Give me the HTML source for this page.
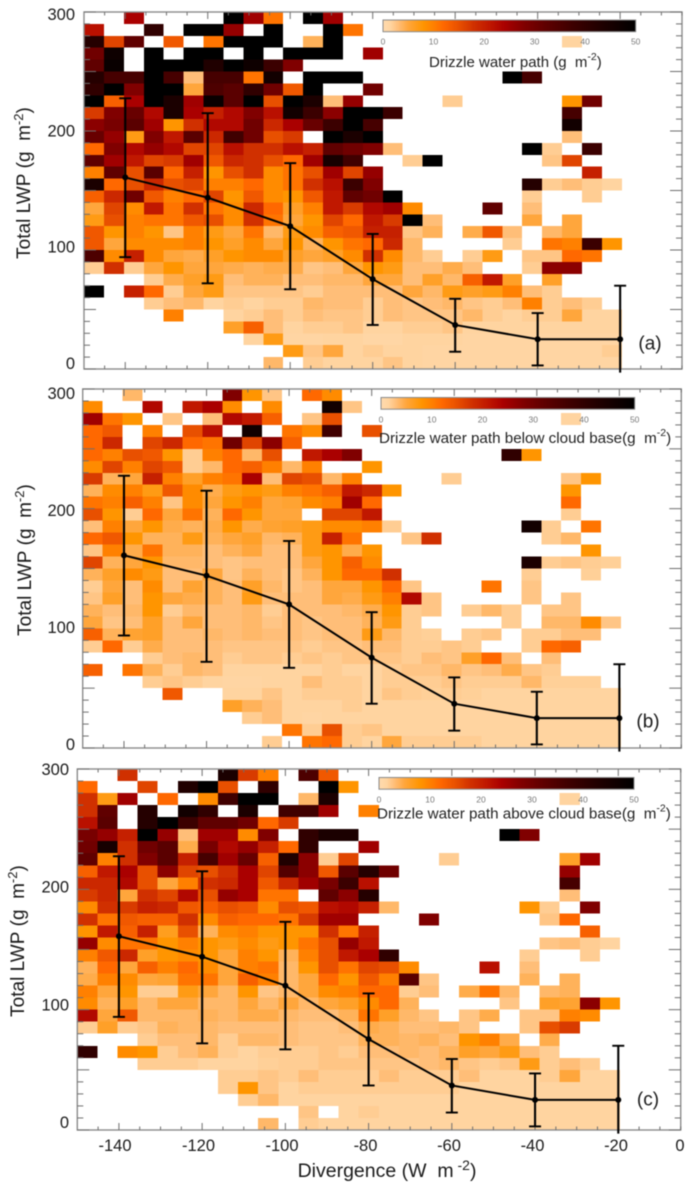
<!DOCTYPE html>
<html lang="en">
<head>
<meta charset="utf-8">
<title>Drizzle water path vs divergence</title>
<style>
html,body{margin:0;padding:0;background:#fff;width:694px;height:1192px;overflow:hidden}
svg{display:block;font-family:"Liberation Sans",sans-serif;filter:blur(0.45px)}
</style>
</head>
<body>
<svg id="chart" xmlns="http://www.w3.org/2000/svg" width="694" height="1192" viewBox="0 0 694 1192"></svg>
<script>
const panelARows = [
[null,null,24,null,null,null,null,50,25,11,null,50,25],
[22,null,null,40,null,50,50,26,null,50,null,null,50,11],
[42,16,32,null,14,null,11,50,50,50,null,4,50,null,null,null,null,null,null,null,null,null,null,null,1.5],
[30,47,null,50,null,50,50,null,50,null,50,50,50,null,25],
[32,48,null,50,50,50,43,50,47,38,28],
[42,36,36,50,36,3,36,36,11,46,null,50,50,50,null,null,null,null,null,null,null,50,36],
[40,50,28,50,50,5,35,33,40,30,14,50,null,null,30],
[50,13,24,50,44,25,48,33,50,15,50,44,3,26,null,null,null,null,2,null,null,null,null,null,8,30],
[17,28,31,23,44,24,20,23,28,22,46,38,27,50,50,38,null,null,null,null,null,null,null,null,36],
[27,29,33,25,8,18,23,23,30,19,24,31,38,50,36,null,null,null,null,null,null,null,null,null,46],
[31,26,7,28,21,33,19,37,30,15,17,null,50,44,50,null,null,null,null,null,null,null,null,null,3],
[12,28,23,26,23,16,16,22,18,18,22,20,32,30,28,3,null,null,null,null,null,null,50,2,null,38],
[32,25,21,16,17,25,14,19,18,15,12,25,45,37,null,null,2,50,null,null,null,null,null,2.5,16],
[10,32,15,33,12,20,8,15,18,9,11,15,25,16,26,null,null,null,null,null,null,null,null,null,null,20],
[44,12,15,19,15,16,10,10,12,9,11,18,22,38,28,null,null,null,null,null,null,null,42,2,3,2,1.5],
[13,19,30,14,10,12,16,8,14,9,8,14,21,32,30,50,null,null,null,null,null,null,2,null,null,2],
[5,16,9,21,11,18,11,9,19,12,6,10,21,17,23,25,9,null,null,null,32,null,3],
[7,15,10,11,11,14,15,9,18,11,5,8,16,12,21,17,50,3,null,null,null,null,5,null,5],
[14,8,10,8,2.5,10,7,5,11,3.5,7,9,13,14,20,20,2.5,4,null,4.5,14,3,null,3.5,5],
[14,5,9,9,9,10,8,6,9,5,8,4,8,11,12,19,3.5,null,null,null,null,2,null,11,10,38,8],
[35,9,20,9,5,4.5,6,8,9,9,6,5,6,9,18,9,3.5,2,null,2,7,null,2.5,2.5,12,11],
[2,18,2,5,8,5,5,4.5,4,4.5,4.5,2.5,3,5,8,7,3,3,4.5,3,null,null,2,27,27],
[null,null,null,2,4.5,6,7,3,4,4,3,3,3.5,3.5,5,5,3,6,3.5,13,21,6,null,6],
[50,null,20,12,2,5,7,2.5,2.5,2.5,2.5,2,3,3,3,3,5,3.5,7,6,7,10,3,2],
[null,null,null,2,3,3.5,1.5,2,1.5,2,2,3.5,3,3,2,3,2.5,3,3.5,2.5,2,3,10,2,3,2],
[null,null,null,null,10,null,null,1.5,2,3,2,3,2.5,2.5,2,3,2.5,2.5,2.5,3.5,2,1.5,2,2,5,1.5,1.5],
[null,null,null,null,null,null,null,6,13,3,1.5,2,2,2.5,1.5,1.5,2,2,2.5,1.5,1.5,1.5,1.5,1.5,1.5,1.5,1.5],
[null,null,null,null,null,null,null,null,1.5,7,1.2,1.2,1.5,1.5,1,1,1.5,1.5,1.5,1.2,1.2,1.2,1.2,1.2,1.2,1.2,1.2],
[null,null,null,null,null,null,null,null,null,null,7,2.5,5,1.5,2,1.5,1.5,1.2,1.2,1.2,1.2,1.2,1.2,1.2,1.2,1.2,2],
[null,null,null,null,null,null,null,null,null,3.5,null,2,1.5,1.5,1.5,2.5,1.5,1.2,1.2,1.2,1.2,1.2,1.2,1.2,1.2,1.2,1.2]
];
const panelBRows = [
[null,null,3.5,null,null,null,null,28,8,2.5,null,12,9],
[9,null,null,23,null,21,24,9,null,9,null,null,46,2.5],
[25,11,8,null,2.5,null,3,23,21,13,null,2.5,15,null,null,null,null,null,null,null,null,null,null,null,1.5],
[12,14,null,10,null,15,22,null,46,null,11,9,37,null,15],
[12,19,null,16,19,12,11,30,16,27,13],
[12,10,15,14,8,2,10,12,3.5,15,null,21,24,28,null,null,null,null,null,null,null,40,8],
[9,16,10,16,14,2,3.5,12,13,10,3.5,10,null,null,8],
[17,4,5,20,10,6,10,11,24,3,16,15,3.5,10,null,null,null,null,2,null,null,null,null,null,2.5,8],
[4,9,10,7,14,9,4.5,7,8,7,10,11,13,21,19,8,null,null,null,null,null,null,null,null,8],
[11,10,13,10,2.5,9,5,8,10,5,5.5,9,10,25,12,null,null,null,null,null,null,null,null,null,12],
[15,8,2,12,5,11,4,12,8,5,5,null,16,16,21,null,null,null,null,null,null,null,null,null,2],
[3,10,5,8,4.5,4,4.5,8,4.5,5.5,6,7,9,9,10,2,null,null,null,null,null,null,46,2,null,11],
[12,14,8,4,4,7,4,5,6,3.5,4,7,20,11,null,null,2.5,18,null,null,null,null,null,2,3.5],
[2.5,10,4.5,11,4,4,3,4,5,3,3,7,8,4.5,8,null,null,null,null,null,null,null,null,null,null,8],
[16,4,5,8,3.5,3.5,3,2.5,3,3,3,5,8,13,9,null,null,null,null,null,null,null,44,2,2.5,2,1.8],
[4,6,9,7,3,3,5,2.5,4,3,2.5,4,8,12,12,18,null,null,null,null,null,null,2,null,null,1.8],
[2,5,3,9,3,5.5,4,3,6,3.5,2.5,3,5,5,8,12,2.5,null,null,null,11,null,2.5],
[2.5,6,3,8,5,4.5,4,3,7,3,3,3,5,4.5,7,10,23,2.5,null,null,null,null,2.5,null,2.5],
[4,3,3.5,8,2,3.5,3,3,3.5,2,3,3,3,3.5,4.5,8,2,2.5,null,2,3.5,2,null,2.5,2.5],
[5,2.5,3,6,3,5,3,3,3.5,2.5,3,2.5,3,3,4,7,2,null,null,null,null,2,null,3.5,3.5,9,2.5],
[13,4,5.5,6,3,3,3.5,3,3.5,3,3,2.5,3,3,7,3.5,2,1.8,null,2,2.5,null,2,2,3,3],
[2,12,2,4.5,3,3,3,2.5,2.5,2.5,2.5,2,2.5,2.5,3,3,2,2,2.5,2,null,null,2,12,13],
[null,null,null,2,3,3.5,3,2,2.5,2.5,2,2.5,2,2.5,2.5,2.5,2,3,2.5,6,12,3,null,3],
[13,null,11,4,2,3.5,3,1.5,1.5,1.5,1.5,1.5,2,1.5,1.5,2,2.5,2.5,3.5,2.5,3,4.5,2.5,2],
[null,null,null,2,2.5,2,1.5,1.2,1.2,1.5,1.5,3,2,2,1.5,2,2,2,2.5,2,2,2,3.5,1.8,1.8,1.8],
[null,null,null,null,14,null,null,1.5,1.5,2.5,1.5,2,2,2,1.5,2.5,2,1.8,2,1.8,1.5,1.5,1.5,1.5,1.5,1.5,1.5],
[null,null,null,null,null,null,null,6,4,3,1.5,1.5,1.5,2,1.5,1.5,1.5,1.5,1.5,1.5,1.5,1.5,1.5,1.5,1.5,1.5,1.5],
[null,null,null,null,null,null,null,null,2,3,1.5,1.2,1.5,1.5,1.5,1.5,1.5,1.5,1.5,1.5,1.5,1.5,1.5,1.5,1.5,1.5,1.5],
[null,null,null,null,null,null,null,null,null,null,11,2,15,2,2.5,1.5,1.5,1.5,1.5,1.5,1.5,1.5,1.5,1.5,1.5,1.5,1.5],
[null,null,null,null,null,null,null,null,null,2,null,11,12,2,1.5,5,2,2,2,2,1.5,1.5,1.5,1.5,1.5,1.5,1.5]
];
const panelCRows = [
[null,null,18,null,null,null,null,44,17,10,null,35,14],
[12,null,null,16,null,43,50,15,null,40,null,null,50,8],
[18,7,25,null,12,null,9,37,50,50,null,3.5,44,null,null,null,null,null,null,null,null,null,null,null,1.5],
[18,32,null,42,null,46,40,null,44,null,37,37,25,null,10],
[22,33,null,42,50,38,32,32,30,12,17],
[29,26,20,50,26,3,25,25,9,28,null,40,44,44,null,null,null,null,null,null,null,50,28],
[30,45,18,30,33,4.5,29,23,26,20,12,40,null,null,25],
[32,10,18,28,33,20,36,25,31,13,43,27,2,16,null,null,null,null,2,null,null,null,null,null,6,25],
[13,21,24,15,27,16,15,18,24,16,34,27,14,33,42,30,null,null,null,null,null,null,null,null,26],
[19,19,23,15,5,10,18,19,24,14,19,25,29,38,22,null,null,null,null,null,null,null,null,null,36],
[17,19,5,18,16,23,15,26,24,11,11,null,32,27,42,null,null,null,null,null,null,null,null,null,3],
[9,18,17,20,19,14,13,15,14,9,15,14,22,23,20,3.5,null,null,null,null,null,null,8,2,null,28],
[18,11,14,13,13,18,9,13,12,12,11,17,25,25,null,null,null,28,null,null,null,null,null,2.5,12],
[8,21,13,20,6.5,15,4,9,10,8,8,8,18,11,20,null,null,null,null,null,null,null,null,null,null,13],
[26,9,11,11,8,10,8,7,9,7,8,11,15,26,21,null,null,null,null,null,null,null,null,2.5,3,2,1.5],
[10,14,19,6,8,9,8,5,10,8,4,10,15,21,24,40,null,null,null,null,null,null,2,null,null,2],
[4,12,5,13,10,12,9,5,10,11,3.5,8,15,11,16,15,9,null,null,null,22,null,3],
[4.5,10,9,5,5.5,11,11,5,13,10,3.5,5,12,8,14,10,33,2.5,null,null,null,null,4,null,4],
[10,5,8,2,2,7,5,3.5,8,2.5,3.5,5,9,10,12,12,2,3,null,4.5,11,3.5,null,3.5,4],
[9,4,6,3.5,5,5,3.5,3.5,5,3.5,5,3.5,5,6,9,12,4,null,null,null,null,2.5,null,6,5.5,27,8],
[23,5,14,3.5,3.5,3.5,4,3.5,4.5,4.5,3.5,3,3,4,11,6,3.5,2.5,null,2.5,4.5,null,2.5,2.5,10,9],
[2,6,2,2.5,4,3.5,3.5,3,3,3,3,2.5,2.5,3,4.5,4,3,3,3.5,2.5,null,null,2.5,15,17],
[null,null,null,2,3,3,3.5,2,3.5,3.5,3,2.5,2.5,2.5,4,4,3.5,4,3,8,10,4.5,null,4.5],
[40,null,9,8,2,3,4,2,1.5,2,2,2,2.5,2,3,3,3.5,3,4,6,5,7,3,2],
[null,null,null,2,2,2,1.5,1.5,1.5,1.8,2,2,2.5,2.5,2.5,2.5,2.5,3,3.5,2.5,2,2.5,7,2,3,2],
[null,null,null,null,null,null,null,2,2,2.5,2,3,2,2,2,3,2,2,2,3,1.5,1.5,1.5,2,5,1.5,1.5],
[null,null,null,null,null,null,null,2,8,2.5,1.5,2,2,2,2,2,2,2,2,1.5,1.5,1.5,1.5,1.5,1.5,1.5,1.5],
[null,null,null,null,null,null,null,null,2,3.5,1.5,1.5,1.5,1.5,1.5,1.5,1.5,1.5,1.5,1.5,1.5,1.5,1.5,1.5,1.5,1.5,1.5],
[null,null,null,null,null,null,null,null,null,null,null,2.5,null,1.5,2,1.5,1.5,1.5,1.5,1.5,1.5,1.5,1.5,1.5,1.5,1.5,1.5],
[null,null,null,null,null,null,null,null,null,3.5,null,2,1.5,1.5,1.5,1.5,1.5,1.5,1.5,1.5,1.5,1.5,1.5,1.5,1.5,1.5,1.5]
];
const divergenceCenters = [-140,-120,-100,-80,-60,-40,-20];
const meanLwp = [161,144,120,75.5,37,25,25];
const lwpUpper = [227.5,215,173,113.5,59,47,70];
const lwpLower = [94,72,67,37,14.5,3,-3];
const xTickValues = [-140,-120,-100,-80,-60,-40,-20,0];
const xTickLabels = ["-140","-120","-100","-80","-60","-40","-20","0"];
const yTickValues = [300,200,100,0];
const yTickLabels = ["300","200","100","0"];
const colorbarValues = [0,10,20,30,40,50];
const colorbarLabels = ["0","10","20","30","40","50"];
const colorStopValues = [0,1.5,3,5,8,10,12,15,18,21,24,28,32,37,43,50];
const colorStopColors = ["#FFDBAE","#FFD4A0","#FFBE78","#FFA63C","#FF9500","#FF8000","#FF6800","#E85000","#D03000","#C01800","#AA0000","#800000","#600000","#400000","#200000","#000000"];

const NS = "http://www.w3.org/2000/svg";
const svg = document.getElementById("chart");
const BIN_W = 4.83, BIN_H = 10, X_MIN = -150, X_MAX = -5, Y_MIN = 0, Y_MAX = 300;

const panels = [
 {id:"a", rows:panelARows, left:84, right:682, top:12, bottom:369, labelTop:15, labelBottom:364, labelRight:75,
  barX0:383, barX1:635.7, barY:20, barH:11.7, barLabelY:41.5, title:"Drizzle water path (g\u00A0\u00A0m", titleX:429, titleY:62, titleFont:15,
  tag:"(a)", tagX:650, tagY:344, yTitleX:24, yTitleY:183},
 {id:"b", rows:panelBRows, left:82.7, right:681.3, top:389, bottom:748, labelTop:394, labelBottom:745, labelRight:75,
  barX0:381, barX1:634.7, barY:397.5, barH:11.7, barLabelY:419.5, title:"Drizzle water path below cloud base(g\u00A0\u00A0m", titleX:379, titleY:438, titleFont:15.2,
  tag:"(b)", tagX:648, tagY:722, yTitleX:25, yTitleY:560},
 {id:"c", rows:panelCRows, left:77.3, right:680.7, top:769, bottom:1130, labelTop:770, labelBottom:1123, labelRight:69,
  barX0:379, barX1:634, barY:777.5, barH:11.7, barLabelY:799.5, title:"Drizzle water path above cloud base(g\u00A0\u00A0m", titleX:377, titleY:813.5, titleFont:15.2,
  tag:"(c)", tagX:648, tagY:1100, yTitleX:18, yTitleY:941}
];

function xScale(p, v){ return p.left + (v - X_MIN) * (p.right - p.left) / (X_MAX - X_MIN); }
function yScale(p, v){ return p.bottom - (v - Y_MIN) * (p.bottom - p.top) / (Y_MAX - Y_MIN); }
function yLabelScale(p, v){ return p.labelBottom - v * (p.labelBottom - p.labelTop) / Y_MAX; }
function barScale(p, v){ return p.barX0 + v * (p.barX1 - p.barX0) / 50; }

function hexToRgb(h){ return [parseInt(h.slice(1,3),16),parseInt(h.slice(3,5),16),parseInt(h.slice(5,7),16)]; }
function valueColor(v){
  const n = colorStopValues.length;
  if (v <= colorStopValues[0]) return colorStopColors[0];
  if (v >= colorStopValues[n-1]) return colorStopColors[n-1];
  for (let i = 1; i < n; i++) {
    if (v <= colorStopValues[i]) {
      const t = (v - colorStopValues[i-1]) / (colorStopValues[i] - colorStopValues[i-1]);
      const a = hexToRgb(colorStopColors[i-1]), b = hexToRgb(colorStopColors[i]);
      return "rgb(" + a.map((c,k)=>Math.round(c+(b[k]-c)*t)).join(",") + ")";
    }
  }
}
function mk(parent, tag, attrs, text){
  const el = document.createElementNS(NS, tag);
  for (const k in attrs) el.setAttribute(k, attrs[k]);
  if (text !== undefined) el.textContent = text;
  parent.appendChild(el);
  return el;
}

const defs = mk(svg, "defs", {});
const gradient = mk(defs, "linearGradient", {id:"drizzle-gradient", x1:"0", x2:"1", y1:"0", y2:"0"});
colorStopValues.forEach(function(v, i){
  mk(gradient, "stop", {offset:(v/50*100)+"%", "stop-color":colorStopColors[i]});
});

panels.forEach(function(p){
  const g = mk(svg, "g", {});
  
  

  // heatmap
  const cells = mk(g, "g", {"shape-rendering":"crispEdges"});
  
  
  p.rows.forEach(function(row, r){
    row.forEach(function(v, c){
      if (v === null || v === undefined) return;
      const xa = xScale(p, X_MIN + c * BIN_W), xb = xScale(p, X_MIN + (c + 1) * BIN_W);
      const ya = yScale(p, Y_MAX - r * BIN_H), yb = yScale(p, Y_MAX - (r + 1) * BIN_H);
      const cell = mk(cells, "rect", {x:xa, y:ya, width:xb-xa, height:yb-ya, fill:valueColor(v)});
      
      
    });
  });

  // frame
  const frame = mk(g, "rect", {x:p.left, y:p.top, width:p.right-p.left, height:p.bottom-p.top, fill:"none", stroke:"#8c8c8c", "stroke-width":1.4});
  
  

  // y ticks
  for (let v = 0; v <= Y_MAX; v += 10) {
    const major = v % 50 === 0, y = yScale(p, v);
    const tl = mk(g, "line", {x1:p.left, x2:p.left+(major?12:6), y1:y, y2:y, stroke:"#6e6e6e", "stroke-width":1});
    
    
    const tr = mk(g, "line", {x1:p.right, x2:p.right-(major?12:6), y1:y, y2:y, stroke:"#6e6e6e", "stroke-width":1});
    
    
  }
  // x ticks
  for (let v = -145; v <= -5; v += 5) {
    const major = v % 20 === 0, x = xScale(p, v);
    const tb = mk(g, "line", {x1:x, x2:x, y1:p.bottom, y2:p.bottom-(major?7:3.5), stroke:"#6e6e6e", "stroke-width":1});
    
    
    const tt = mk(g, "line", {x1:x, x2:x, y1:p.top, y2:p.top+(major?7:3.5), stroke:"#6e6e6e", "stroke-width":1});
    
    
  }

  // y tick labels
  yTickValues.forEach(function(v, i){
    const t = mk(g, "text", {x:p.labelRight, y:yLabelScale(p, v), "text-anchor":"end", "dominant-baseline":"central", "font-size":16.5, fill:"#1a1a1a"}, yTickLabels[i]);
    
    
  });

  // y title
  const yt = mk(g, "text", {transform:"translate("+p.yTitleX+","+p.yTitleY+") rotate(-90)", "text-anchor":"middle", "dominant-baseline":"central", "font-size":19, fill:"#1a1a1a"});
  
  
  mk(yt, "tspan", {}, "Total LWP\u00A0(g\u00A0\u00A0m");
  mk(yt, "tspan", {dy:-6, "font-size":13}, "-2");
  mk(yt, "tspan", {dy:6}, ")");

  // colorbar
  const bar = mk(g, "rect", {x:p.barX0, y:p.barY, width:p.barX1-p.barX0, height:p.barH, fill:"url(#drizzle-gradient)", stroke:"#8a8a8a", "stroke-width":1});
  
  
  colorbarValues.forEach(function(v, i){
    const t = mk(g, "text", {x:barScale(p, v), y:p.barLabelY, "text-anchor":"middle", "dominant-baseline":"central", "font-size":8.5, fill:"#777"}, colorbarLabels[i]);
    
    
  });
  const ct = mk(g, "text", {x:p.titleX, y:p.titleY, "dominant-baseline":"central", "font-size":p.titleFont, fill:"#222"});
  
  
  mk(ct, "tspan", {}, p.title);
  mk(ct, "tspan", {dy:-5, "font-size":10.5}, "-2");
  mk(ct, "tspan", {dy:5}, ")");

  // panel tag
  const tag = mk(g, "text", {x:p.tagX, y:p.tagY, "text-anchor":"middle", "dominant-baseline":"central", "font-size":19, fill:"#1a1a1a"}, p.tag);
  
  

  // error bars
  divergenceCenters.forEach(function(d, i){
    const x = xScale(p, d), hi = yScale(p, lwpUpper[i]), lo = yScale(p, lwpLower[i]);
    const eb = mk(g, "line", {x1:x, x2:x, y1:hi, y2:lo, stroke:"#000", "stroke-width":2.1});
    
    
    const capHi = mk(g, "line", {x1:x-6, x2:x+6, y1:hi, y2:hi, stroke:"#000", "stroke-width":1.9});
    
    
    if (lwpLower[i] >= 0) {
      const capLo = mk(g, "line", {x1:x-6, x2:x+6, y1:lo, y2:lo, stroke:"#000", "stroke-width":1.9});
      
      
    }
  });
  // mean line
  const pts = divergenceCenters.map(function(d, i){ return xScale(p, d) + "," + yScale(p, meanLwp[i]); }).join(" ");
  const line = mk(g, "polyline", {points:pts, fill:"none", stroke:"#000", "stroke-width":2});
  
  
  divergenceCenters.forEach(function(d, i){
    const pt = mk(g, "circle", {cx:xScale(p, d), cy:yScale(p, meanLwp[i]), r:3, fill:"#000"});
    
    
  });
});

// shared x-axis labels, positioned from the bottom panel
const xLabelOrigin = 115, xLabelStep = 4.175, xLabelMax = 680;
xTickValues.forEach(function(v, i){
  const x = Math.min(xLabelOrigin + (v + 140) * xLabelStep, xLabelMax);
  const t = mk(svg, "text", {x:x, y:1146, "text-anchor":"middle", "dominant-baseline":"central", "font-size":16.5, fill:"#1a1a1a"}, xTickLabels[i]);
  
  
});
const xTitle = mk(svg, "text", {x:387, y:1171, "text-anchor":"middle", "dominant-baseline":"central", "font-size":19.5, fill:"#1a1a1a"});


mk(xTitle, "tspan", {}, "Divergence (W\u00A0\u00A0m");
mk(xTitle, "tspan", {dy:-6, "font-size":14}, " -2");
mk(xTitle, "tspan", {dy:6}, ")");
</script>
</body>
</html>
